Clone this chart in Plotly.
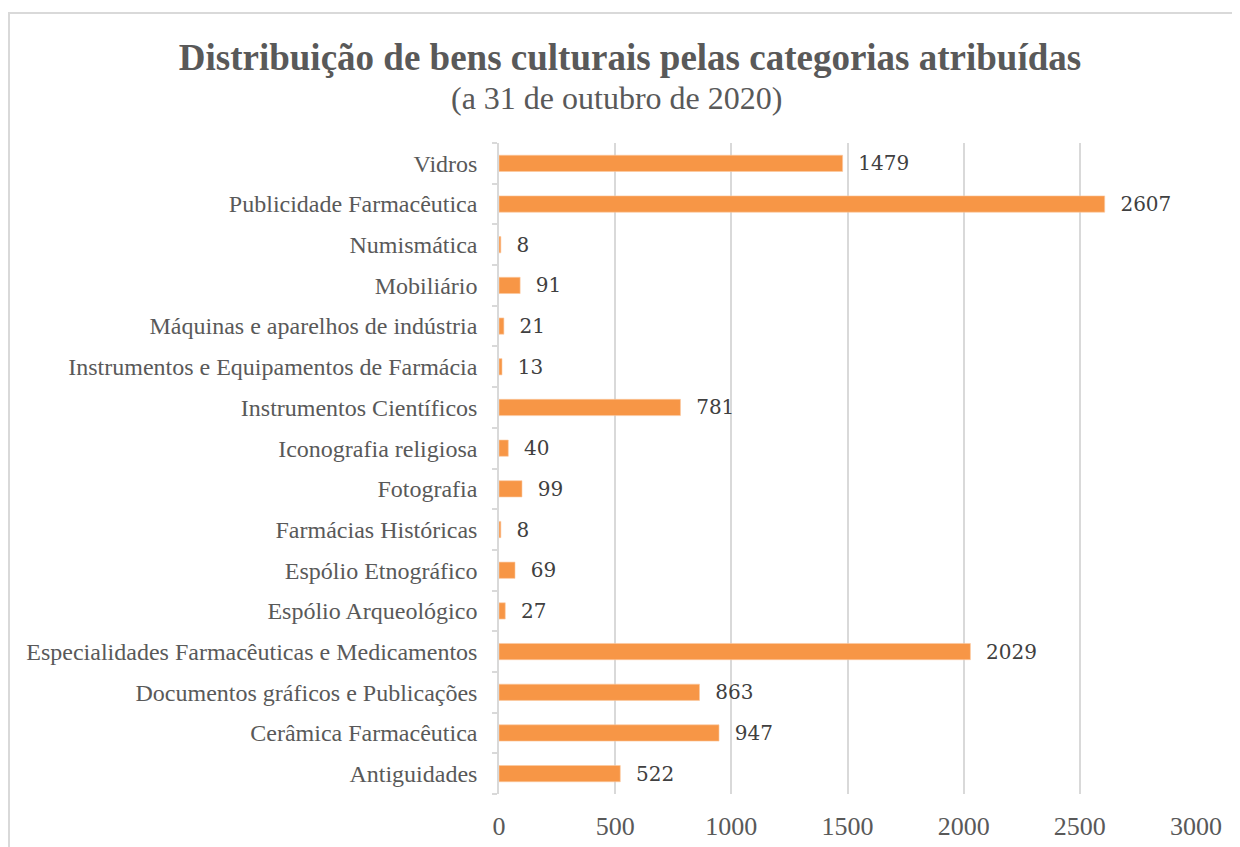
import plotly.graph_objects as go

categories = [
    "Antiguidades",
    "Cerâmica Farmacêutica",
    "Documentos gráficos e Publicações",
    "Especialidades Farmacêuticas e Medicamentos",
    "Espólio Arqueológico",
    "Espólio Etnográfico",
    "Farmácias Históricas",
    "Fotografia",
    "Iconografia religiosa",
    "Instrumentos Científicos",
    "Instrumentos e Equipamentos de Farmácia",
    "Máquinas e aparelhos de indústria",
    "Mobiliário",
    "Numismática",
    "Publicidade Farmacêutica",
    "Vidros",
]
counts = [522, 947, 863, 2029, 27, 69, 8, 99, 40, 781, 13, 21, 91, 8, 2607, 1479]
x_ticks = [0, 500, 1000, 1500, 2000, 2500, 3000]

title = "Distribuição de bens culturais pelas categorias atribuídas"
subtitle = "(a 31 de outubro de 2020)"

serif = "Liberation Serif, Times New Roman, serif"
grey = "#595959"

# page body adds an 8px offset, so everything below is in figure px
L, R, T, B = 491, 52, 135, 61
PW, PH = 1240 - L - R, 847 - T - B

fig = go.Figure()
fig.add_trace(go.Bar(
    y=categories, x=counts, orientation="h",
    marker=dict(color="#F79646", line=dict(color="#FBC9A1", width=0.6)),
    text=counts, texttemplate="  %{x}", textposition="outside",
    constraintext="none",
    textfont=dict(family="DejaVu Serif, serif", size=20, color="#404040"),
    cliponaxis=False, width=0.4,
))

fig.update_layout(
    width=1240, height=847,
    paper_bgcolor="white", plot_bgcolor="white",
    margin=dict(l=L, r=R, t=T, b=B),
    showlegend=False,
    title=dict(text=f"<b>{title}</b>", x=622 / 1240, xref="container",
               y=1 - 49 / 847, yref="container", xanchor="center", yanchor="middle",
               font=dict(family=serif, size=37, color=grey)),
    font=dict(family=serif, color=grey),
)
fig.add_annotation(text=subtitle, xref="paper", yref="paper",
                   x=(608 - L) / PW, y=1 + (T - 90) / PH,
                   xanchor="center", yanchor="middle", showarrow=False,
                   font=dict(family=serif, size=32, color=grey))

fig.update_xaxes(range=[0, 3000], tickvals=x_ticks, showgrid=True,
                 gridcolor="#D9D9D9", gridwidth=1.5, zeroline=False,
                 showline=False, ticks="", ticklabelstandoff=14,
                 tickfont=dict(family=serif, size=26, color=grey))
fig.update_yaxes(type="category", categoryorder="array", categoryarray=categories,
                 showline=True, linecolor="#D9D9D9", linewidth=1.5,
                 ticks="outside", tickson="boundaries", ticklen=5, tickcolor="#D9D9D9",
                 tickwidth=1.5, showgrid=False, ticklabelstandoff=15,
                 tickfont=dict(family=serif, size=24, color=grey))

# outer chart border
fig.add_shape(type="rect", xref="paper", yref="paper",
              x0=(1 - L) / PW, x1=(1260 - L) / PW,
              y0=-(870 - (847 - B)) / PH, y1=1 + (T - 5) / PH,
              line=dict(color="#D9D9D9", width=2))

fig.write_html("out.html")
